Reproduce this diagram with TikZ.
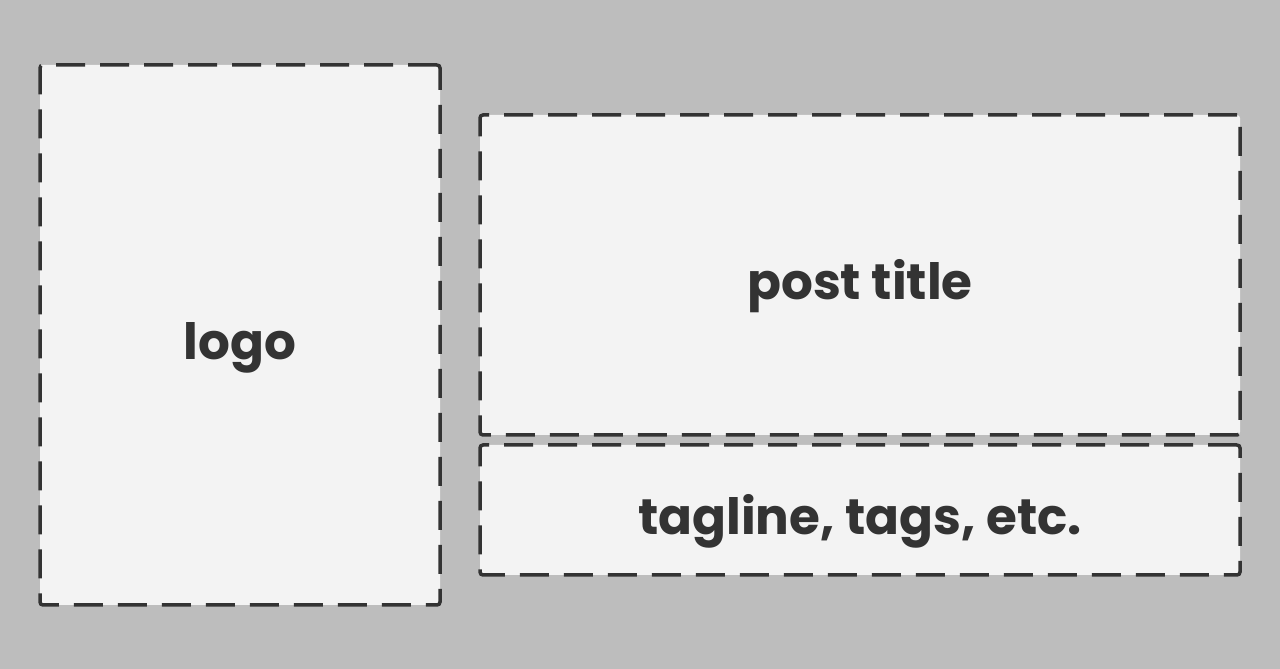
\documentclass[tikz,border=0pt]{standalone}
\usepackage{fontspec}
\setmainfont{Poppins}
\usetikzlibrary{positioning}

\definecolor{bggray}{HTML}{BDBDBD}
\definecolor{boxfill}{HTML}{F3F3F3}
\definecolor{ink}{HTML}{333333}

\begin{document}
\begin{tikzpicture}[
    x=1pt, y=1pt,
    every node/.style={font=\fontsize{50}{54}\selectfont\bfseries, text=ink},
    slot/.style={rectangle, rounded corners=3pt, draw=ink, fill=boxfill, line width=3.5pt,
                 dash pattern=on 29pt off 15pt, inner sep=0pt, align=center,
                 text height=60pt, text depth=10pt}
]

% Background
\fill[bggray] (0,0) rectangle (1280,669);
\useasboundingbox (0,0) rectangle (1280,669);

% Left column
\node (logo) [slot, minimum width=400pt, minimum height=540pt] at (240,334) {logo};

% Right column
\node (title) [slot, minimum width=760pt, minimum height=320pt] at (860,394) {post title};
\node (tagline) [slot, minimum width=760pt, minimum height=130pt, below=6.5pt of title] {tagline, tags, etc.};

\end{tikzpicture}
\end{document}
